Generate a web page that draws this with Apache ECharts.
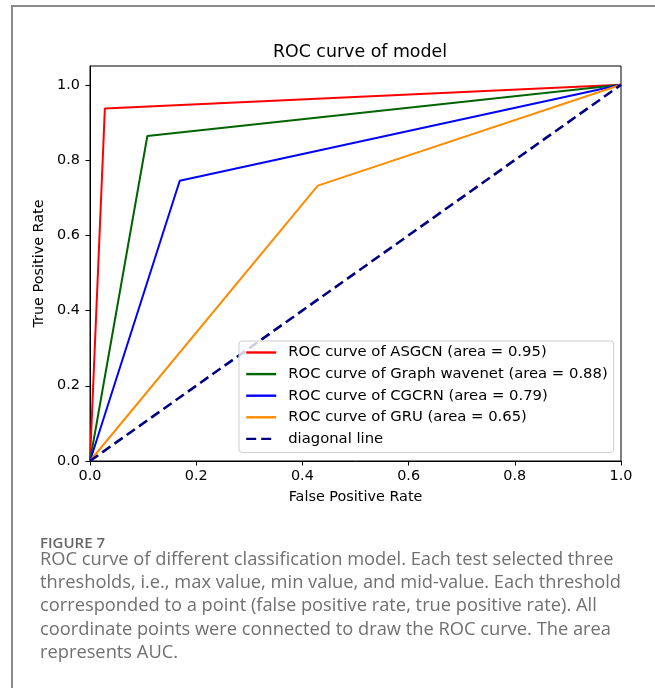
<!DOCTYPE html>
<html>
  <head>
    <title></title>
    <meta charset="UTF-8" />
    <script src="https://cdn.jsdelivr.net/npm/echarts@6/dist/echarts.min.js"></script>
    <style>
      body { margin: 0; background: #fff; }
    </style>
  </head>
  <body>
    <div id="main"></div>
    <script>
      const width = 655;
      const height = 688;
      const main = document.getElementById('main');
      main.style.width = `${width}px`;
      main.style.height = `${height}px`;

      // ROC points (false positive rate, true positive rate)
      const seriesNames = [
        'ROC curve of ASGCN (area = 0.95)',
        'ROC curve of Graph wavenet (area = 0.88)',
        'ROC curve of CGCRN (area = 0.79)',
        'ROC curve of GRU (area = 0.65)',
        'diagonal line',
      ];
      const asgcn = [[0, 0], [0.028, 0.937], [1, 1]];
      const graphWavenet = [[0, 0], [0.108, 0.864], [1, 1]];
      const cgcrn = [[0, 0], [0.169, 0.745], [1, 1]];
      const gru = [[0, 0], [0.429, 0.732], [1, 1]];
      const diagonal = [[0, 0], [1, 1]];
      const tickValues = [0, 0.2, 0.4, 0.6, 0.8, 1.0];

      const colors = ['#ff0000', '#006400', '#0000ff', '#ff8c00', '#000080'];
      const font = 'DejaVu Sans';
      const fs = 14.4;

      const captionTitle = 'FIGURE 7';
      const captionLines = [
        'ROC curve of different classification model. Each test selected three',
        'thresholds, i.e., max value, min value, and mid-value. Each threshold',
        'corresponded to a point (false positive rate, true positive rate). All',
        'coordinate points were connected to draw the ROC curve. The area',
        'represents AUC.',
      ];

      const allData = [asgcn, graphWavenet, cgcrn, gru, diagonal];

      const myChart = echarts.init(main);
      const option = {
        animation: false,
        title: {
          text: 'ROC curve of model',
          left: 355,
          top: 39,
          textAlign: 'center',
          textStyle: { fontFamily: font, fontSize: 17.4, fontWeight: 'normal', color: '#000' },
        },
        grid: {
          left: 90,
          right: 34,
          top: 66,
          bottom: 227,
          show: true,
          borderColor: '#000',
          borderWidth: 1,
        },
        legend: {
          orient: 'vertical',
          left: 239,
          top: 341,
          itemWidth: 30,
          itemHeight: 14,
          itemGap: 6.6,
          padding: [4, 6, 6, 6],
          borderColor: '#cccccc',
          borderWidth: 1,
          borderRadius: 3,
          backgroundColor: 'rgba(255,255,255,0.8)',
          itemStyle: { opacity: 0 },
          lineStyle: { width: 2.4 },
          textStyle: { fontFamily: font, fontSize: 14.8, color: '#000', padding: [0, 0, 0, 7] },
          data: seriesNames,
        },
        xAxis: {
          type: 'value',
          min: 0,
          max: 1,
          interval: 0.2,
          name: 'False Positive Rate',
          nameLocation: 'middle',
          nameGap: 29,
          nameTextStyle: { fontFamily: font, fontSize: fs, color: '#000' },
          axisLine: { lineStyle: { color: '#000', width: 1 } },
          axisTick: { show: true, length: 4.5, lineStyle: { color: '#000', width: 1 } },
          axisLabel: {
            fontFamily: font,
            fontSize: fs,
            color: '#000',
            margin: 8,
            formatter: (v) => v.toFixed(1),
          },
          splitLine: { show: false },
        },
        yAxis: {
          type: 'value',
          min: 0,
          max: 1.05,
          name: 'True Positive Rate',
          nameLocation: 'middle',
          nameGap: 37,
          nameTextStyle: { fontFamily: font, fontSize: fs, color: '#000' },
          axisLine: { show: true, lineStyle: { color: '#000', width: 1 } },
          axisTick: {
            show: true,
            length: 4.5,
            customValues: tickValues,
            lineStyle: { color: '#000', width: 1 },
          },
          axisLabel: {
            fontFamily: font,
            fontSize: fs,
            color: '#000',
            margin: 10,
            customValues: tickValues,
            formatter: (v) => v.toFixed(1),
          },
          splitLine: { show: false },
        },
        series: seriesNames.map((name, i) => ({
          name: name,
          type: 'line',
          data: allData[i],
          symbol: 'none',
          color: colors[i],
          lineStyle: {
            color: colors[i],
            width: i === 4 ? 2.6 : 2,
            type: i === 4 ? [10, 5] : 'solid',
          },
          z: 2 + i * 0.01,
        })),
        graphic: [
          {
            type: 'polyline',
            shape: { points: [[12, 688], [12, 6], [655, 6]] },
            style: { stroke: '#8a8a8a', lineWidth: 2, fill: null },
          },
          {
            type: 'text',
            left: 40,
            top: 536,
            style: {
              text: captionTitle,
              fontFamily: 'Open Sans',
              fontSize: 15,
              fontWeight: 600,
              fill: '#666',
            },
          },
          {
            type: 'text',
            left: 40,
            top: 548,
            style: {
              text: captionLines.join('\n'),
              fontFamily: 'Open Sans',
              fontSize: 18.3,
              lineHeight: 23.3,
              fill: '#707070',
            },
          },
        ],
      };
      myChart.setOption(option);
    </script>
  </body>
</html>
